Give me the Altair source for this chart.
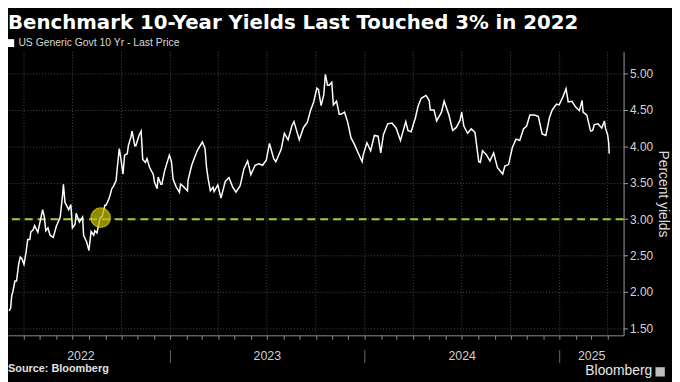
import altair as alt
import pandas as pd

# ---------------- data ----------------
dates = [
    "2022-03-04", "2022-03-07", "2022-03-09", "2022-03-11", "2022-03-15", "2022-03-18",
    "2022-03-22", "2022-03-25", "2022-03-28", "2022-04-01", "2022-04-05", "2022-04-08",
    "2022-04-12", "2022-04-14", "2022-04-18", "2022-04-21", "2022-04-27", "2022-05-02",
    "2022-05-06", "2022-05-09", "2022-05-12", "2022-05-16", "2022-05-20", "2022-05-26",
    "2022-06-01", "2022-06-03", "2022-06-08", "2022-06-10", "2022-06-13", "2022-06-14",
    "2022-06-17", "2022-06-22", "2022-06-24", "2022-06-28", "2022-07-01", "2022-07-06",
    "2022-07-08", "2022-07-14", "2022-07-20", "2022-07-22", "2022-07-28", "2022-08-01",
    "2022-08-05", "2022-08-10", "2022-08-12", "2022-08-16", "2022-08-22", "2022-08-26",
    "2022-08-31", "2022-09-02", "2022-09-07", "2022-09-09", "2022-09-13", "2022-09-16",
    "2022-09-21", "2022-09-23", "2022-09-27", "2022-09-30", "2022-10-04", "2022-10-07",
    "2022-10-12", "2022-10-14", "2022-10-19", "2022-10-21", "2022-10-26", "2022-10-28",
    "2022-11-03", "2022-11-07", "2022-11-10", "2022-11-15", "2022-11-18", "2022-11-23",
    "2022-11-30", "2022-12-02", "2022-12-07", "2022-12-09", "2022-12-14", "2022-12-16",
    "2022-12-21", "2022-12-30",
    "2023-01-03", "2023-01-06", "2023-01-12", "2023-01-18", "2023-01-20", "2023-01-25",
    "2023-02-02", "2023-02-03", "2023-02-10", "2023-02-16", "2023-02-21", "2023-03-02",
    "2023-03-07", "2023-03-10", "2023-03-13", "2023-03-17", "2023-03-22", "2023-03-24",
    "2023-03-31", "2023-04-06", "2023-04-14", "2023-04-21", "2023-04-28", "2023-05-04",
    "2023-05-12", "2023-05-19", "2023-05-26", "2023-06-01", "2023-06-09", "2023-06-16",
    "2023-06-23", "2023-06-30", "2023-07-06", "2023-07-14", "2023-07-18", "2023-07-21",
    "2023-07-28", "2023-08-03", "2023-08-10", "2023-08-17", "2023-08-21", "2023-08-25",
    "2023-08-31", "2023-09-08", "2023-09-15", "2023-09-21", "2023-09-27", "2023-10-03",
    "2023-10-06", "2023-10-11", "2023-10-16", "2023-10-19", "2023-10-23", "2023-10-26",
    "2023-10-31", "2023-11-03", "2023-11-09", "2023-11-14", "2023-11-17", "2023-11-24",
    "2023-11-30", "2023-12-06", "2023-12-13", "2023-12-19", "2023-12-27", "2023-12-29",
    "2024-01-05", "2024-01-12", "2024-01-19", "2024-01-26", "2024-01-31", "2024-02-05",
    "2024-02-13", "2024-02-21", "2024-02-29", "2024-03-08", "2024-03-18", "2024-03-22",
    "2024-03-28", "2024-04-05", "2024-04-10", "2024-04-16", "2024-04-25", "2024-05-01",
    "2024-05-03", "2024-05-10", "2024-05-15", "2024-05-24", "2024-05-29", "2024-06-07",
    "2024-06-14", "2024-06-21", "2024-06-28", "2024-07-01", "2024-07-05", "2024-07-12",
    "2024-07-19", "2024-07-26", "2024-08-02", "2024-08-05", "2024-08-09", "2024-08-16",
    "2024-08-23", "2024-08-30", "2024-09-06", "2024-09-16", "2024-09-20", "2024-09-27",
    "2024-10-04", "2024-10-11", "2024-10-18", "2024-10-25", "2024-10-31", "2024-11-06",
    "2024-11-15", "2024-11-22", "2024-11-29", "2024-12-06", "2024-12-13", "2024-12-18",
    "2024-12-26", "2024-12-31",
    "2025-01-07", "2025-01-13", "2025-01-17", "2025-01-24", "2025-01-31", "2025-02-07",
    "2025-02-12", "2025-02-14", "2025-02-21", "2025-02-28", "2025-03-04", "2025-03-07",
    "2025-03-14", "2025-03-21", "2025-03-26", "2025-03-28", "2025-04-01", "2025-04-03",
    "2025-04-04",
]
yields = [
    1.74, 1.78, 1.95, 2.00, 2.15, 2.15,
    2.38, 2.48, 2.46, 2.38, 2.55, 2.72,
    2.72, 2.83, 2.85, 2.91, 2.82, 2.99,
    3.13, 3.04, 2.84, 2.88, 2.78, 2.75,
    2.91, 2.94, 3.03, 3.16, 3.37, 3.48,
    3.23, 3.16, 3.13, 3.20, 2.88, 2.93,
    3.08, 2.96, 3.03, 2.78, 2.68, 2.57,
    2.83, 2.78, 2.84, 2.81, 3.02, 3.04,
    3.19, 3.19, 3.27, 3.31, 3.42, 3.45,
    3.53, 3.69, 3.97, 3.83, 3.62, 3.88,
    3.90, 4.01, 4.13, 4.21, 4.01, 4.01,
    4.15, 4.21, 3.82, 3.78, 3.83, 3.71,
    3.61, 3.51, 3.42, 3.58, 3.48, 3.48,
    3.66, 3.88,
    3.79, 3.55, 3.44, 3.37, 3.48, 3.45,
    3.39, 3.53, 3.74, 3.86, 3.95, 4.06,
    3.97, 3.70, 3.55, 3.39, 3.44, 3.38,
    3.47, 3.29, 3.52, 3.57, 3.44, 3.37,
    3.46, 3.69, 3.80, 3.61, 3.74, 3.76,
    3.74, 3.81, 4.04, 3.83, 3.79, 3.84,
    3.96, 4.18, 4.09, 4.28, 4.34, 4.24,
    4.09, 4.26, 4.33, 4.49, 4.61, 4.80,
    4.78, 4.56, 4.71, 4.99, 4.84, 4.84,
    4.88, 4.57, 4.62, 4.44, 4.44, 4.47,
    4.33, 4.12, 4.02, 3.92, 3.79, 3.88,
    4.05, 3.94, 4.15, 4.14, 3.91, 4.16,
    4.31, 4.32, 4.25, 4.08, 4.34, 4.22,
    4.20, 4.39, 4.55, 4.66, 4.70, 4.63,
    4.50, 4.50, 4.35, 4.47, 4.62, 4.43,
    4.22, 4.26, 4.36, 4.47, 4.28, 4.18,
    4.24, 4.19, 3.79, 3.78, 3.94, 3.89,
    3.80, 3.91, 3.71, 3.62, 3.73, 3.75,
    3.98, 4.10, 4.08, 4.24, 4.28, 4.43,
    4.43, 4.41, 4.17, 4.15, 4.40, 4.50,
    4.58, 4.57,
    4.68, 4.79, 4.61, 4.62, 4.54, 4.49,
    4.63, 4.47, 4.43, 4.21, 4.22, 4.30,
    4.31, 4.25, 4.35, 4.25, 4.16, 4.05,
    3.90,
]
series_name = "US Generic Govt 10 Yr - Last Price"

threshold = [3.0]
marker_dates = ["2022-08-23"]
marker_values = [3.02]

quarter_starts = [
    "2022-04-01", "2022-07-01", "2022-10-01", "2023-01-01", "2023-04-01", "2023-07-01",
    "2023-10-01", "2024-01-01", "2024-04-01", "2024-07-01", "2024-10-01", "2025-01-01",
    "2025-04-01",
]
year_starts = ["2023-01-01", "2024-01-01", "2025-01-01"]
year_labels = ["2022", "2023", "2024", "2025"]
year_label_dates = ["2022-07-17", "2023-07-02", "2024-07-02", "2025-03-02"]
y_ticks = [1.5, 2.0, 2.5, 3.0, 3.5, 4.0, 4.5, 5.0]

title_text = "Benchmark 10-Year Yields Last Touched 3% in 2022"
source_text = "Source: Bloomberg"
brand_text = "Bloomberg"
y_title = "Percent yields"

# ---------------- frames ----------------
line_df = pd.DataFrame({"date": dates, "value": yields, "series": series_name})
thr_df = pd.DataFrame({"value": threshold})
mark_df = pd.DataFrame({"date": marker_dates, "value": marker_values})
q_df = pd.DataFrame({"date": quarter_starts})
ys_df = pd.DataFrame({"date": year_starts})
yl_df = pd.DataFrame({"date": year_label_dates, "label": year_labels})

FONT = "Liberation Sans"
W, H = 623, 287

month_ticks = [
    alt.DateTime(year=d.year, month=d.month, date=1, utc=True)
    for d in pd.date_range("2022-04-01", "2025-04-01", freq="MS")
]

xscale = alt.Scale(domain=[alt.DateTime(year=2022, month=3, date=2, utc=True),
                           alt.DateTime(year=2025, month=5, date=1, utc=True)])
yscale = alt.Scale(domain=[1.405, 5.30], nice=False, zero=False)

xaxis = alt.Axis(values=month_ticks, labels=False, ticks=True, tickSize=4,
                 tickColor="#8a8a8a", domainColor="#8a8a8a", grid=False, title=None)
yaxis = alt.Axis(orient="right", values=y_ticks, format=".2f", labelFont=FONT,
                 labelFontSize=12, labelColor="#d4d4d4", labelPadding=2,
                 tickSize=4, tickColor="#a0a0a0", domainColor="#a0a0a0",
                 grid=True, gridColor="#4a4a4a", gridDash=[1, 2],
                 title=y_title, titleFont=FONT, titleFontSize=14,
                 titleFontWeight="normal", titleColor="#dcdcdc", titlePadding=3)

X = alt.X("date:T", scale=xscale, axis=xaxis)
Y = alt.Y("value:Q", scale=yscale, axis=yaxis)

vgrid = alt.Chart(q_df).mark_rule(color="#4a4a4a", strokeDash=[1, 2], strokeWidth=1).encode(x=X)

thr = alt.Chart(thr_df).mark_rule(color="#9fd12e", strokeDash=[8, 5], strokeWidth=2).encode(y=Y)

line = alt.Chart(line_df).mark_line(strokeWidth=1.5, interpolate="linear").encode(
    x=X, y=Y,
    color=alt.Color("series:N", scale=alt.Scale(range=["#ffffff"]),
                    legend=alt.Legend(orient="none", legendX=-3, legendY=-14, title=None,
                                      symbolType="square", symbolSize=64,
                                      symbolFillColor="#ffffff", symbolStrokeColor="#ffffff",
                                      symbolStrokeWidth=0, labelFont=FONT, labelFontSize=10.5,
                                      labelColor="#d8d8d8", labelOffset=3, labelLimit=400,
                                      padding=0)),
)

marker = alt.Chart(mark_df).mark_circle(size=380, color="#bdb800", opacity=0.75,
                                        stroke="#e6e000", strokeWidth=1.5).encode(x=X, y=Y)

seps = alt.Chart(ys_df).mark_rule(color="#6a6a6a", strokeWidth=1).encode(
    x=X, y=alt.value(H + 15), y2=alt.value(H + 28))

ylabels = alt.Chart(yl_df).mark_text(font=FONT, fontSize=12.5, color="#d0d0d0",
                                     baseline="alphabetic", align="center").encode(
    x=X, y=alt.value(H + 25), text="label:N")

ttl = alt.Chart(pd.DataFrame({"t": [title_text]})).mark_text(
    font="DejaVu Sans", fontSize=20, fontWeight="bold", color="#ffffff", align="left",
    baseline="alphabetic").encode(x=alt.value(0), y=alt.value(-23), text="t:N")

src = alt.Chart(pd.DataFrame({"t": [source_text]})).mark_text(
    font=FONT, fontSize=11, fontWeight="bold", color="#e0e0e0", align="left",
    baseline="alphabetic").encode(x=alt.value(0), y=alt.value(H + 37), text="t:N")

brand = alt.Chart(pd.DataFrame({"t": [brand_text]})).mark_text(
    font=FONT, fontSize=14, color="#e8e8e8", align="right",
    baseline="alphabetic").encode(x=alt.value(652), y=alt.value(H + 40), text="t:N")

icon = alt.Chart(pd.DataFrame({"t": [brand_text]})).mark_square(
    size=90, color="#bdbdbd", opacity=1).encode(x=alt.value(660), y=alt.value(H + 37))

chart = alt.layer(vgrid, thr, line, marker, seps, ylabels, ttl, src, brand, icon).properties(
    width=W, height=H,
    autosize="none",
    padding={"left": 0, "top": 42, "right": 49, "bottom": 45},
).configure(background="#000000").configure_view(stroke=None)

chart.save("out.html", embed_options={"renderer": "svg", "actions": False})
